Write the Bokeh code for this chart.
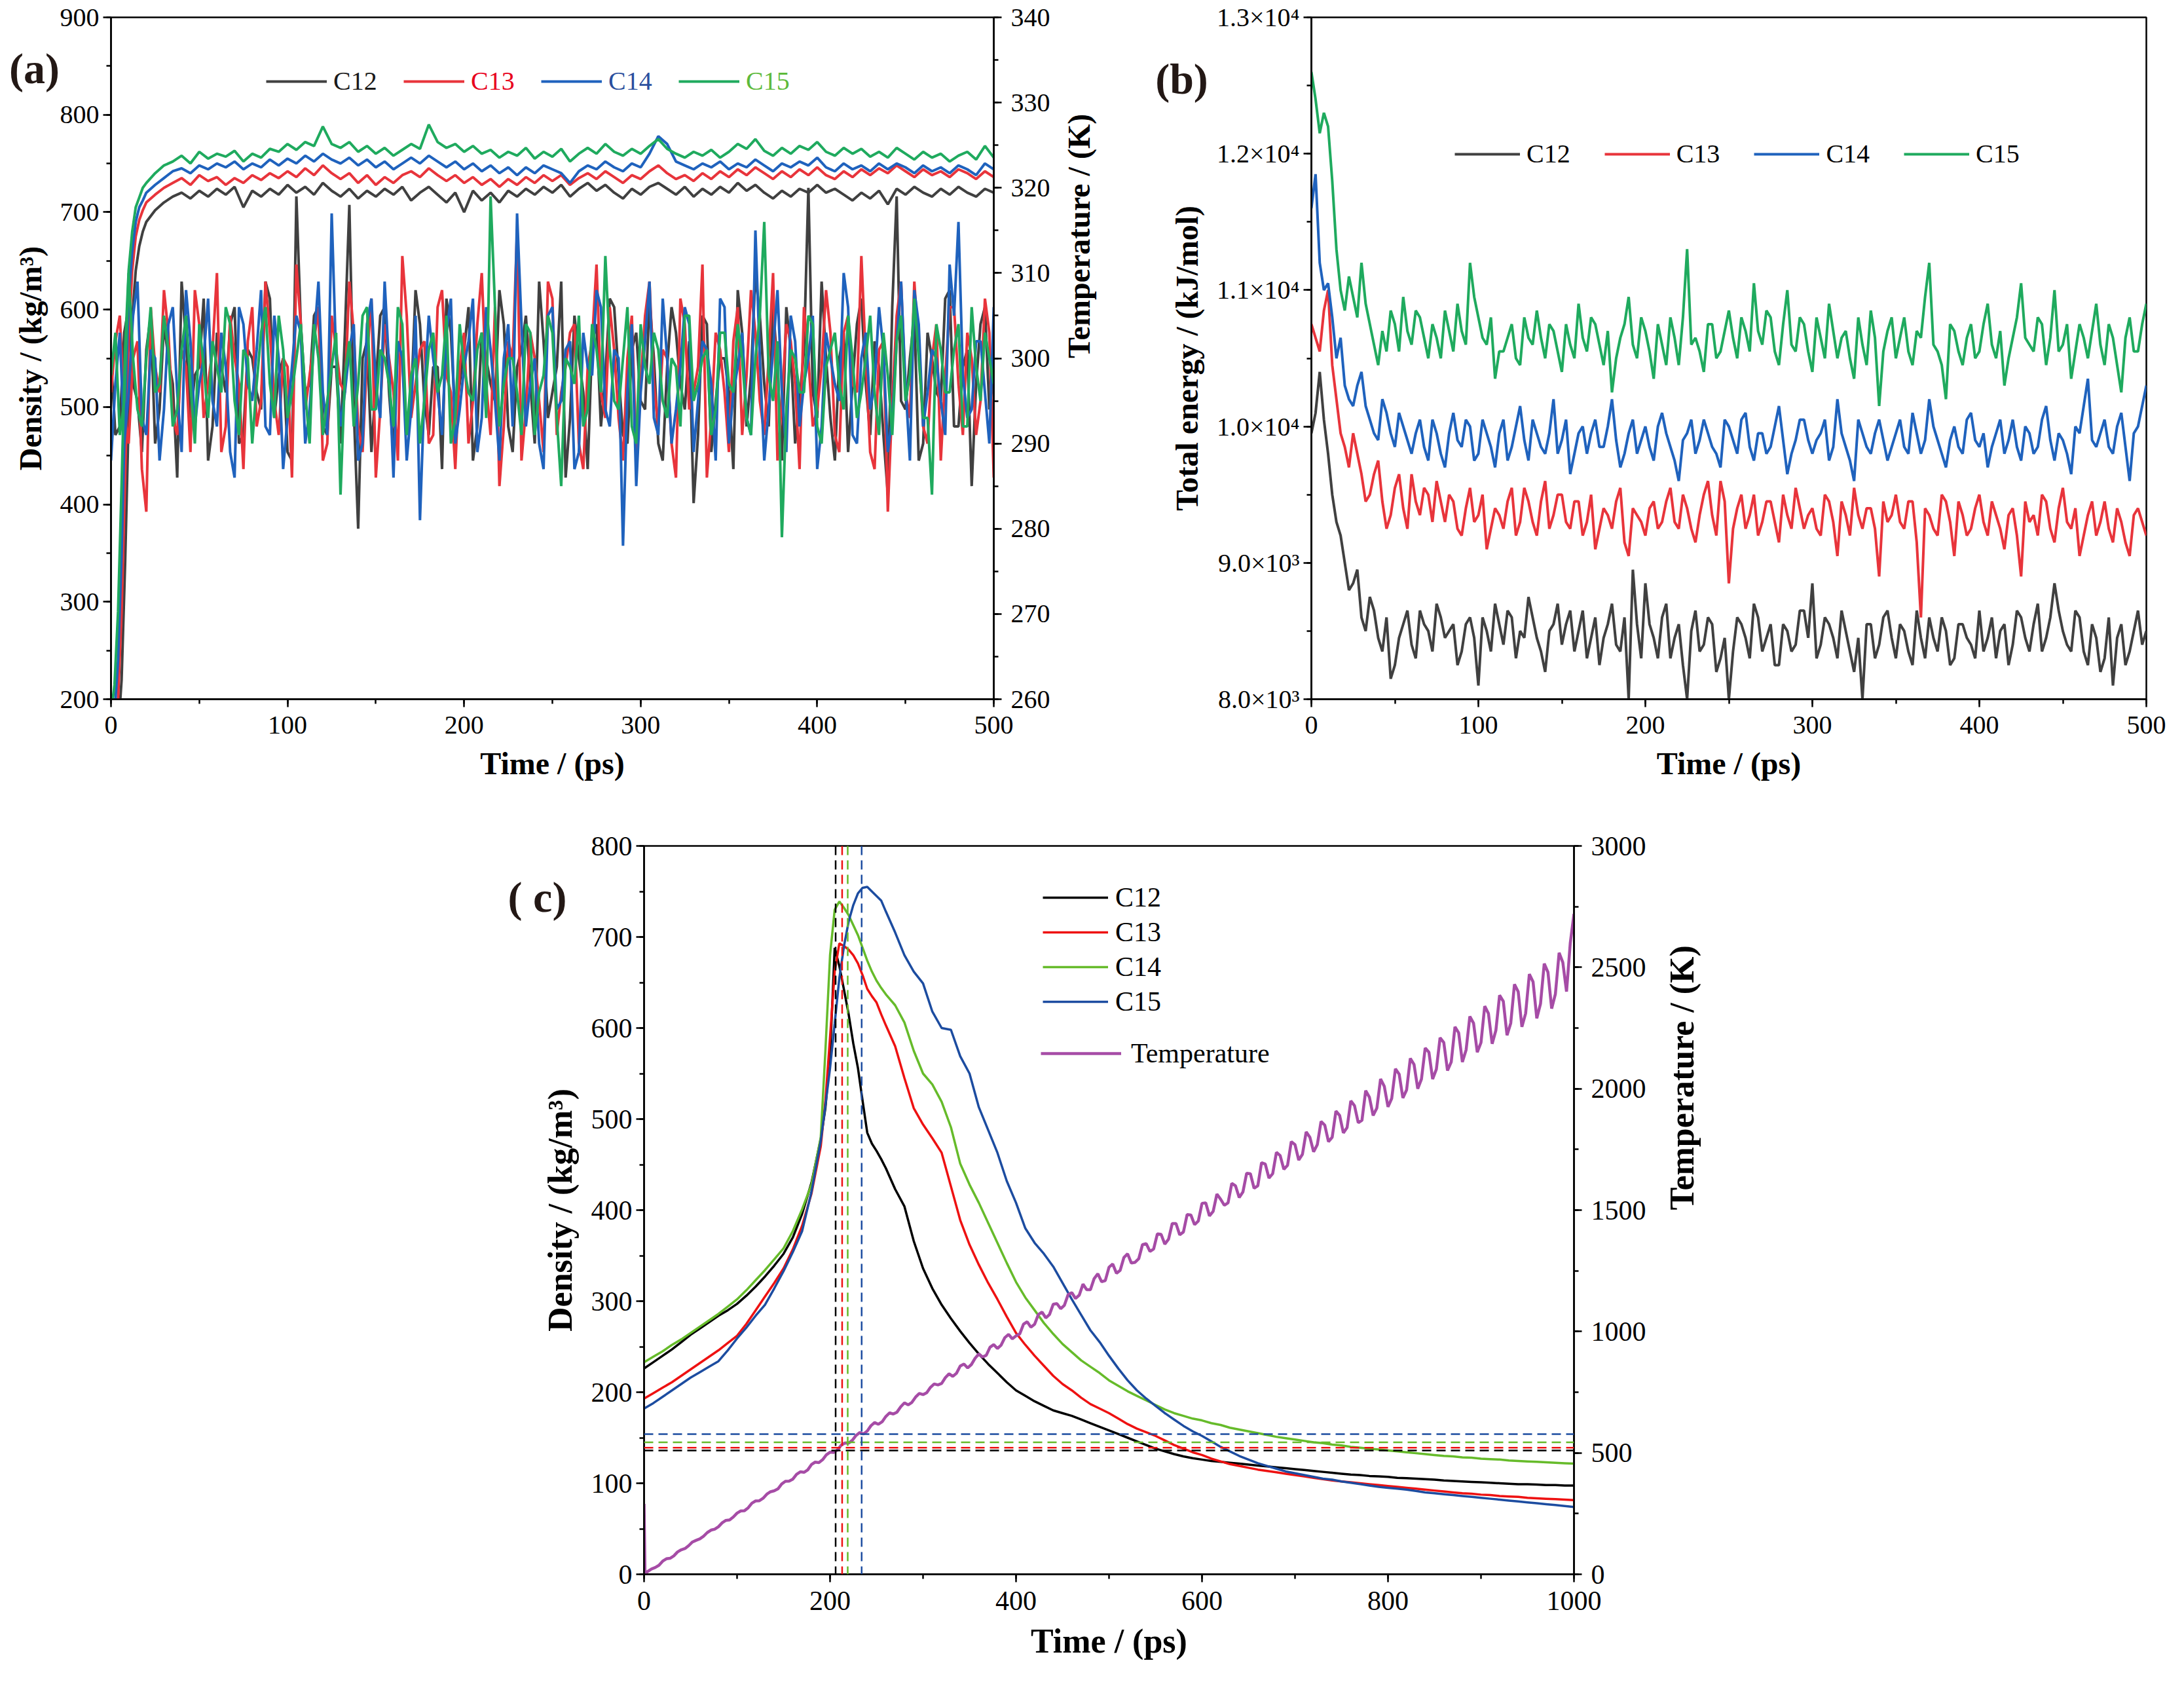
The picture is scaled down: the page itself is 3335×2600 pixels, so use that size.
import math

from bokeh.embed import file_html
from bokeh.layouts import row
from bokeh.models import (GridBox, Label, Legend, LegendItem, LinearAxis,
                          Range1d, SingleIntervalTicker, Spacer, Span)
from bokeh.plotting import figure
from bokeh.resources import INLINE

FONT = "Liberation Serif"

# ---------------- data: panel (a) ----------------
t_dens_a = [0, 2, 4, 6, 8, 10, 12, 14, 16, 18, 20] + list(range(25, 501, 5))
t_temp_a = list(range(0, 501, 5))
t_temp_a_mid = [t + 2.5 for t in range(0, 500, 5)]

dens_a_c12 = [130, 140, 165, 220, 340, 490, 590, 640, 665, 680, 690,
              702, 710, 716, 720, 714, 722, 716, 724, 718, 726,
              705, 722, 716, 724, 718, 728, 720, 726, 718, 730,
              722, 716, 724, 714, 722, 716, 724, 718, 726, 712,
              720, 726, 718, 710, 720, 700, 722, 712, 720, 710,
              722, 716, 724, 718, 726, 720, 728, 716, 724, 730,
              722, 728, 720, 714, 724, 718, 726, 730, 724, 718,
              726, 716, 724, 718, 726, 720, 730, 722, 728, 720,
              714, 722, 716, 724, 720, 728, 720, 724, 718, 712,
              720, 714, 722, 708, 724, 718, 726, 720, 716, 724,
              718, 726, 720, 716, 724, 720]
dens_a_c13 = [150, 165, 200, 290, 430, 570, 640, 675, 692, 702, 710,
              718, 725, 730, 735, 728, 738, 732, 736, 728, 735,
              730, 738, 733, 740, 735, 742, 736, 745, 738, 748,
              740, 734, 740, 730, 738, 728, 736, 730, 738, 742,
              736, 745, 738, 732, 738, 730, 736, 728, 734, 726,
              734, 728, 736, 730, 738, 732, 738, 728, 735, 740,
              734, 742, 736, 730, 738, 734, 742, 748, 740, 734,
              738, 732, 740, 734, 742, 736, 744, 738, 746, 740,
              734, 742, 736, 744, 738, 746, 738, 734, 742, 736,
              744, 738, 745, 740, 748, 742, 736, 744, 738, 742,
              736, 744, 740, 734, 742, 736]
dens_a_c14 = [165, 185, 240, 350, 500, 610, 660, 690, 705, 712, 720,
              728, 735, 742, 745, 740, 748, 744, 750, 746, 752,
              744, 750, 746, 754, 748, 755, 750, 758, 752, 760,
              754, 750, 756, 748, 754, 746, 752, 744, 750, 756,
              750, 758, 752, 746, 752, 744, 750, 742, 748, 740,
              746, 738, 746, 740, 748, 744, 740, 730, 742, 748,
              744, 752, 746, 742, 750, 746, 760, 778, 770, 752,
              748, 744, 750, 746, 752, 744, 750, 746, 754, 748,
              742, 750, 746, 752, 748, 756, 746, 742, 750, 744,
              748, 742, 750, 744, 750, 746, 740, 748, 742, 746,
              740, 748, 744, 738, 750, 744]
dens_a_c15 = [185, 215, 290, 420, 560, 640, 680, 705, 715, 725, 730,
              740, 748, 752, 758, 750, 762, 755, 760, 757, 763,
              752, 760, 756, 765, 762, 770, 764, 772, 768, 788,
              770, 766, 772, 762, 768, 760, 766, 758, 764, 770,
              765, 790, 772, 766, 770, 762, 768, 760, 764, 756,
              762, 758, 766, 755, 762, 757, 765, 752, 760, 766,
              760, 770, 762, 758, 765, 760, 768, 775, 765, 760,
              756, 762, 758, 764, 756, 762, 770, 765, 775, 763,
              758, 766, 760, 768, 764, 772, 762, 758, 766, 760,
              765, 757, 762, 756, 766, 760, 754, 762, 756, 760,
              752, 758, 762, 754, 768, 756]

temp_a_c12 = [300, 292, 306, 295, 301, 290, 304, 297, 309, 293,
              299, 288, 303, 296, 306, 291, 300, 294, 307, 298,
              289, 319, 296, 305, 292, 299, 290, 318, 280, 302,
              297, 306, 289, 300, 295, 304, 291, 299, 307, 293,
              301, 288, 303, 297, 308, 292, 299, 305, 290, 302,
              296, 309, 293, 300, 287, 304, 298, 306, 291, 301,
              295, 307, 290, 299, 303, 294, 283, 305, 289, 300,
              296, 308, 292, 310, 297, 306, 288, 301, 295, 320,
              293, 300, 288, 303, 297, 307, 291, 299, 284, 319,
              294, 305, 290, 300, 295, 308, 292, 301, 297, 306,
              298]
temp_a_c12_mid = [291, 303, 297, 289, 305, 294, 300, 286, 302, 298,
                  307, 292, 299, 304, 290, 301, 296, 309, 293, 300,
                  288, 304, 297, 306, 291, 299, 303, 294, 300, 289,
                  305, 296, 302, 291, 308, 295, 299, 287, 303, 297,
                  306, 292, 300, 295, 304, 289, 301, 297, 309, 293,
                  299, 286, 305, 296, 302, 292, 307, 298, 290, 303,
                  294, 300, 288, 306, 297, 302, 291, 304, 295, 300,
                  287, 303, 298, 305, 292, 299, 306, 290, 301, 296,
                  309, 293, 300, 289, 304, 297, 302, 291, 306, 295,
                  300, 288, 303, 296, 307, 292, 299, 285, 304, 294]
temp_a_c13 = [296, 305, 290, 302, 282, 299, 308, 293, 301, 289,
              304, 297, 310, 292, 300, 287, 306, 295, 303, 291,
              299, 311, 294, 302, 288, 305, 297, 309, 292, 300,
              286, 304, 296, 312, 293, 301, 290, 306, 298, 287,
              303, 295, 310, 291, 285, 302, 315, 294, 300, 289,
              307, 296, 303, 290, 299, 311, 293, 301, 288, 305,
              297, 309, 292, 300, 286, 304, 296, 311, 293, 301,
              289, 306, 298, 303, 291, 310, 295, 302, 287, 300,
              294, 308, 291, 303, 297, 312, 289, 301, 282, 305,
              296, 309, 292, 300, 288, 306, 297, 303, 291, 307,
              286]
temp_a_c13_mid = [302, 294, 300, 287, 306, 296, 303, 291, 299, 308,
                  293, 301, 289, 305, 297, 302, 292, 309, 295, 300,
                  286, 304, 298, 306, 290, 301, 296, 303, 289, 307,
                  294, 300, 288, 305, 297, 302, 291, 308, 296, 299,
                  290, 304, 297, 306, 292, 300, 288, 303, 295, 309,
                  291, 299, 304, 287, 302, 296, 306, 293, 300, 289,
                  305, 297, 301, 290, 307, 294, 299, 286, 303, 296,
                  302, 291, 308, 295, 300, 288, 304, 297, 306, 292,
                  299, 303, 289, 305, 296, 300, 287, 302, 295, 309,
                  293, 301, 290, 304, 298, 306, 291, 300, 295, 303]
temp_a_c14 = [288, 303, 296, 309, 291, 300, 294, 306, 289, 302,
              297, 307, 292, 299, 286, 304, 295, 308, 291, 300,
              293, 305, 290, 302, 296, 317, 292, 301, 288, 304,
              297, 309, 286, 300, 294, 281, 305, 296, 303, 290,
              299, 307, 293, 301, 288, 304, 317, 292, 300, 287,
              306, 295, 302, 289, 299, 308, 294, 301, 278, 304,
              296, 309, 291, 300, 294, 306, 289, 302, 297, 307,
              290, 299, 293, 315, 288, 301, 296, 305, 292, 300,
              287, 303, 297, 310, 291, 300, 294, 306, 289, 302,
              297, 308, 292, 301, 295, 311, 316, 293, 302, 296,
              306]
temp_a_c14_mid = [297, 290, 305, 293, 301, 288, 304, 296, 308, 292,
                  300, 295, 303, 289, 306, 297, 301, 292, 305, 287,
                  299, 303, 294, 309, 291, 300, 296, 304, 290, 307,
                  293, 299, 302, 288, 305, 296, 300, 291, 307, 294,
                  302, 289, 306, 295, 300, 292, 304, 297, 290, 305,
                  294, 301, 287, 303, 298, 306, 292, 300, 296, 285,
                  302, 293, 307, 290, 299, 304, 295, 301, 288, 306,
                  296, 303, 291, 300, 294, 308, 289, 302, 297, 305,
                  292, 300, 295, 306, 290, 303, 297, 301, 293, 309,
                  288, 304, 296, 300, 291, 305, 298, 294, 302, 290]
temp_a_c15 = [298, 291, 310, 294, 300, 296, 305, 292, 301, 297,
              304, 293, 299, 306, 295, 301, 290, 303, 297, 305,
              293, 300, 296, 304, 291, 299, 284, 302, 297, 306,
              294, 300, 292, 304, 298, 290, 301, 296, 305, 293,
              299, 295, 303, 319, 292, 300, 296, 304, 291, 298,
              303, 285, 299, 305, 294, 301, 312, 295, 300, 292,
              304, 297, 301, 293, 299, 305, 295, 300, 291, 303,
              297, 304, 293, 300, 316, 295, 279, 301, 296, 305,
              292, 299, 303, 294, 300, 296, 305, 291, 298, 302,
              295, 307, 293, 284, 301, 296, 304, 292, 299, 303,
              297]
temp_a_c15_mid = [303, 295, 300, 292, 306, 297, 301, 294, 305, 290,
                  299, 302, 296, 304, 291, 300, 297, 306, 293, 301,
                  296, 304, 290, 300, 295, 303, 298, 292, 305, 294,
                  301, 297, 306, 291, 300, 295, 303, 298, 290, 304,
                  296, 301, 293, 306, 297, 300, 291, 303, 296, 305,
                  293, 300, 297, 292, 304, 296, 301, 294, 306, 290,
                  299, 303, 295, 300, 292, 305, 297, 301, 294, 303,
                  296, 300, 291, 305, 298, 302, 294, 300, 296, 304,
                  290, 301, 297, 305, 293, 300, 296, 303, 291, 305,
                  298, 300, 293, 304, 296, 301, 292, 306, 295, 300]

# ---------------- data: panel (b) ----------------
t_b = list(range(0, 501, 5))
t_b_mid = [t + 2.5 for t in range(0, 500, 5)]

energy_c12 = [9950, 10400, 9800, 9300, 9000, 8850, 8600, 8750, 8450, 8600,
              8250, 8550, 8400, 8650, 8500, 8700, 8450, 8550, 8350, 8600,
              8100, 8500, 8700, 8400, 8600, 8500, 8750, 8450, 8200, 8550,
              8400, 8650, 8500, 8300, 8600, 8450, 8700, 8350, 8000, 8550,
              8850, 8450, 8600, 8300, 8550, 8000, 8650, 8400, 8550, 8300,
              8000, 8600, 8450, 8700, 8350, 8550, 8250, 8500, 8400, 8650,
              8850, 8400, 8550, 8300, 8500, 8200, 8000, 8550, 8400, 8650,
              8300, 8500, 8250, 8450, 8600, 8350, 8500, 8300, 8550, 8400,
              8650, 8450, 8300, 8550, 8400, 8600, 8350, 8700, 8450, 8850,
              8500, 8350, 8600, 8250, 8450, 8300, 8100, 8550, 8350, 8650,
              8500]
energy_c12_mid = [10100, 10050, 9500, 9200, 8800, 8950, 8500, 8650, 8350, 8150,
                  8450, 8650, 8300, 8550, 8350, 8600, 8500, 8250, 8550, 8450,
                  8600, 8350, 8550, 8650, 8300, 8450, 8600, 8350, 8500, 8700,
                  8550, 8350, 8650, 8450, 8250, 8550, 8400, 8600, 8950, 8300,
                  8550, 8300, 8700, 8450, 8250, 8500, 8350, 8600, 8200, 8450,
                  8350, 8550, 8300, 8600, 8450, 8250, 8550, 8350, 8650, 8450,
                  8300, 8600, 8450, 8650, 8350, 8450, 8550, 8300, 8600, 8450,
                  8550, 8350, 8650, 8300, 8450, 8600, 8250, 8550, 8450, 8300,
                  8350, 8600, 8500, 8250, 8650, 8450, 8550, 8350, 8600, 8650,
                  8400, 8650, 8350, 8550, 8200, 8600, 8450, 8250, 8500, 8400]
energy_c13 = [10750, 10550, 11000, 10200, 9850, 9950, 9650, 9500, 9750, 9250,
              9550, 9400, 9650, 9350, 9500, 9600, 9300, 9450, 9200, 9550,
              9350, 9100, 9400, 9250, 9550, 9300, 9450, 9200, 9600, 9350,
              9500, 9250, 9450, 9300, 9100, 9400, 9250, 9550, 9050, 9350,
              9200, 9450, 9300, 9550, 9250, 9400, 9150, 9500, 9350, 9600,
              8850, 9400, 9250, 9500, 9300, 9450, 9150, 9350, 9550, 9250,
              9400, 9200, 9450, 9050, 9350, 9550, 9250, 9400, 8900, 9300,
              9500, 9250, 9450, 8600, 9350, 9200, 9450, 9050, 9350, 9250,
              9500, 9200, 9350, 9100, 9400, 8900, 9300, 9200, 9450, 9150,
              9550, 9250, 9050, 9350, 9200, 9450, 9150, 9300, 9050, 9400,
              9200]
energy_c13_mid = [10650, 10850, 10450, 9950, 9700, 9800, 9450, 9650, 9450, 9350,
                  9650, 9250, 9450, 9550, 9300, 9450, 9500, 9250, 9400, 9300,
                  9500, 9250, 9350, 9450, 9200, 9550, 9300, 9450, 9250, 9500,
                  9300, 9450, 9200, 9500, 9250, 9350, 9450, 9150, 9400, 9300,
                  9400, 9250, 9450, 9300, 9500, 9250, 9350, 9600, 9200, 9450,
                  9250, 9500, 9350, 9200, 9450, 9300, 9500, 9250, 9400, 9350,
                  9250, 9500, 9300, 9450, 9200, 9350, 9400, 9250, 9450, 9350,
                  9300, 9450, 9150, 9400, 9250, 9500, 9300, 9450, 9200, 9400,
                  9300, 9450, 9250, 9350, 9200, 9450, 9350, 9500, 9250, 9400,
                  9300, 9400, 9200, 9450, 9300, 9250, 9400, 9150, 9350, 9300]
energy_c14 = [11600, 11200, 11050, 10500, 10300, 10150, 10400, 10050, 9900, 10100,
              9850, 10000, 9800, 10050, 9750, 9950, 9700, 10100, 9850, 10000,
              9800, 9950, 9700, 10050, 9850, 10150, 9750, 9950, 9800, 10200,
              9900, 9650, 9950, 9800, 10050, 9850, 10200, 9700, 9950, 9800,
              10000, 9750, 10100, 9850, 9600, 9950, 9800, 10050, 9850, 9700,
              10000, 9800, 10100, 9750, 9950, 9850, 10150, 9650, 9900, 10050,
              9800, 9950, 9750, 10200, 9850, 9600, 9950, 9800, 10050, 9750,
              9950, 9850, 10100, 9800, 10200, 9900, 9700, 10000, 9800, 10100,
              9850, 9700, 9950, 9800, 10050, 9750, 9950, 9850, 10150, 9750,
              9900, 9650, 9950, 10350, 9850, 10050, 9800, 10100, 9600, 10000,
              10300]
energy_c14_mid = [11850, 11000, 10800, 10650, 10200, 10300, 10150, 9950, 10200, 9950,
                  10100, 9900, 9950, 9850, 10050, 9800, 9950, 9900, 10050, 9750,
                  10050, 9850, 9950, 9750, 10000, 9900, 10050, 9850, 9950, 9800,
                  10050, 9800, 10000, 9950, 9850, 10000, 9900, 9800, 10050, 9900,
                  9850, 10000, 9950, 9750, 9900, 10050, 9900, 9950, 9800, 10050,
                  9900, 10050, 9850, 9950, 9800, 10000, 9900, 9800, 10050, 9900,
                  9900, 10050, 9850, 9950, 9750, 10050, 9850, 9950, 9900, 9850,
                  10050, 9800, 9950, 9900, 10000, 9800, 9900, 9850, 10050, 9900,
                  9950, 9850, 10050, 9900, 9850, 10000, 9800, 10050, 9900, 9950,
                  9800, 10000, 10150, 9900, 9950, 9850, 10000, 9850, 9950, 10150]
energy_c15 = [12600, 12150, 12200, 11300, 10850, 10950, 11200, 10750, 10450, 10550,
              10750, 10950, 10600, 10800, 10500, 10650, 10850, 10550, 10700, 11200,
              10800, 10600, 10350, 10550, 10750, 10450, 10650, 10850, 10500, 10700,
              10400, 10600, 10900, 10550, 10750, 10450, 10250, 10650, 10950, 10500,
              10700, 10350, 10600, 10800, 10450, 11300, 10650, 10400, 10750, 10550,
              10850, 10500, 10700, 11050, 10600, 10800, 10450, 11000, 10550, 10750,
              10400, 10650, 10900, 10500, 10700, 10350, 10600, 10850, 10150, 10700,
              10500, 10800, 10450, 10650, 11200, 10550, 10200, 10700, 10450, 10750,
              10550, 10900, 10500, 10300, 10650, 11050, 10600, 10800, 10450, 11000,
              10600, 10350, 10750, 10500, 10900, 10450, 10650, 10250, 10800, 10550,
              10900]
energy_c15_mid = [12400, 12300, 11800, 11000, 11100, 10800, 10900, 10600, 10700, 10850,
                  10550, 10700, 10850, 10650, 10750, 10500, 10700, 10900, 10600, 10950,
                  10650, 10800, 10550, 10650, 10500, 10800, 10600, 10650, 10750, 10550,
                  10750, 10500, 10650, 10800, 10600, 10700, 10500, 10750, 10600, 10800,
                  10550, 10750, 10450, 10650, 10800, 10600, 10550, 10750, 10500, 10700,
                  10650, 10800, 10550, 10700, 10850, 10550, 10750, 10600, 10800, 10550,
                  10800, 10500, 10700, 10650, 10500, 10800, 10450, 10650, 10550, 10800,
                  10650, 10550, 10700, 10950, 10600, 10450, 10750, 10550, 10650, 10500,
                  10750, 10600, 10700, 10500, 10800, 10650, 10550, 10750, 10650, 10550,
                  10750, 10550, 10650, 10700, 10600, 10750, 10450, 10650, 10550, 10750]
energy_ticks = {8000: "8.0×10³", 9000: "9.0×10³", 10000: "1.0×10⁴",
                11000: "1.1×10⁴", 12000: "1.2×10⁴", 13000: "1.3×10⁴"}

# ---------------- data: panel (c) ----------------
t_c = list(range(0, 191, 10)) + list(range(195, 261, 5)) + list(range(270, 1001, 10))

dens_c_c12 = [226, 233, 240, 247, 255, 263, 270, 277, 284, 290,
              297, 306, 316, 327, 339, 352, 370, 396, 430, 478,
              512, 570, 688, 668, 642, 615, 583, 556, 520, 485, 473, 465, 456, 446,
              423, 404, 366, 336,
              314, 296, 281, 267, 254, 242, 231, 221, 211, 202,
              196, 190, 185, 180, 177, 174, 170, 166, 162, 158,
              154, 150, 146, 142, 138, 135, 132, 129.5, 127.5, 126,
              124.5, 123.5, 122.5, 121.5, 120.5, 119.5, 118.5, 117.5, 116.5, 115.5,
              114.5, 113.5, 112.5, 111.5, 110.5, 109.5, 109, 108, 107.5, 107,
              106, 105.5, 105, 104.5, 104, 103, 102.5, 102, 101.5, 101,
              100.5, 100, 99.5, 99, 99, 98.5, 98, 98, 97.5, 97.5]
dens_c_c13 = [193, 199, 205, 211, 218, 225, 232, 239, 246, 254,
              262, 275, 290, 305, 320, 336, 357, 383, 418, 470,
              520, 590, 662, 693, 690, 686, 680, 671, 658, 643, 635, 628, 615, 603,
              580, 545, 512, 494,
              479, 463, 426, 389, 362, 340, 320, 302, 283, 265,
              252, 240, 229, 218, 209, 202, 194, 187, 182, 177,
              171, 165, 160, 156, 152, 147, 142, 138, 134, 131,
              127, 124, 121, 119, 117, 115, 113.5, 112, 110.5, 109,
              107.5, 106, 104.5, 103, 102, 101, 100, 99, 98, 97,
              96, 95, 94, 93, 92, 91, 90, 89, 88.5, 87.5,
              87, 86, 85.5, 85, 84, 83.5, 83, 82.5, 82, 81.5]
dens_c_c14 = [233, 239, 245, 252, 258, 265, 272, 279, 286, 294,
              302, 312, 323, 334, 346, 358, 377, 401, 428, 480,
              575, 680, 730, 739, 732, 724, 713, 702, 688, 674, 662, 652, 644, 637,
              625, 606, 575, 550,
              538, 519, 491, 451, 428, 408, 386, 364, 342, 321,
              304, 290, 276, 264, 253, 244, 235, 228, 221, 213,
              207, 201, 196, 191, 186, 181, 177, 174, 171, 169,
              166, 164, 161, 159, 157, 155, 153, 151, 149.5, 148,
              146.5, 145, 144, 142.5, 141.5, 140, 139, 138, 137, 136,
              135, 134, 133, 132, 131, 130, 129.5, 128.5, 128, 127,
              126.5, 126, 125, 124.5, 124, 123.5, 123, 122.5, 122, 121.5]
dens_c_c15 = [182, 188, 195, 202, 209, 216, 222, 228, 234, 246,
              259, 271, 284, 296, 314, 333, 354, 377, 420, 476,
              515, 556, 605, 655, 690, 717, 735, 748, 754, 755, 750, 745, 740, 728,
              705, 680, 662, 649,
              618, 600, 598, 569, 550, 513, 488, 463, 432, 408,
              380, 364, 352, 338, 320, 302, 285, 268, 255, 240,
              226, 213, 202, 193, 185, 177, 170, 163, 157, 152,
              146, 140, 135, 130, 126, 122, 119, 116, 113, 111,
              109, 107, 105, 104, 102, 100.5, 99, 97.5, 96, 95,
              94, 93, 91.5, 90, 89, 88, 87, 86, 85, 84,
              83, 82, 81, 80, 79, 78, 77, 76, 75, 74]

t_temp_c = [0, 1] + list(range(8, 1001, 8))
t_temp_c_mid = list(range(4, 1000, 8))
temp_c = [290, 2,
          22, 37, 64, 76, 101, 118, 140, 157, 182, 196,
          222, 236, 261, 274, 302, 313, 340, 352, 383, 392,
          422, 430, 462, 472, 503, 512, 541, 552, 584, 590,
          625, 628, 665, 668, 706, 708, 745, 748, 784, 786,
          826, 828, 866, 864, 908, 902, 946, 944, 988, 982,
          1030, 1018, 1070, 1056, 1112, 1094, 1152, 1136, 1195, 1172,
          1238, 1210, 1278, 1252, 1320, 1285, 1358, 1330, 1402, 1360,
          1445, 1398, 1482, 1440, 1528, 1476, 1566, 1520, 1610, 1552,
          1652, 1590, 1695, 1632, 1738, 1668, 1782, 1706, 1822, 1740,
          1865, 1782, 1908, 1818, 1950, 1860, 1992, 1890, 2040, 1925,
          2082, 1962, 2125, 2000, 2168, 2040, 2210, 2075, 2255, 2110,
          2298, 2150, 2340, 2185, 2385, 2220, 2430, 2255, 2472, 2290,
          2515, 2330, 2560, 2400, 2720]
temp_c_mid = [12, 28, 54, 66, 92, 106, 133, 146, 172, 186,
              212, 224, 252, 262, 293, 303, 330, 344, 372, 384,
              412, 420, 452, 460, 492, 502, 532, 540, 572, 578,
              612, 618, 650, 660, 690, 698, 730, 740, 770, 780,
              810, 815, 858, 850, 890, 895, 935, 930, 975, 970,
              990, 1040, 1030, 1080, 1070, 1115, 1108, 1160, 1150, 1172,
              1218, 1205, 1265, 1240, 1305, 1282, 1300, 1362, 1340, 1400,
              1380, 1445, 1410, 1480, 1455, 1530, 1495, 1545, 1530, 1600,
              1575, 1650, 1600, 1690, 1650, 1725, 1685, 1770, 1730, 1800,
              1770, 1850, 1800, 1890, 1840, 1930, 1870, 1965, 1920, 2010,
              1960, 2060, 1995, 2100, 2040, 2150, 2080, 2190, 2110, 2230,
              2160, 2270, 2190, 2310, 2240, 2360, 2270, 2400, 2310, 2440,
              2350, 2480, 2390, 2520, 2600]

peak_time = [206, 213, 219, 234]
cross_density = [136, 139, 145, 154]

names = ["C12", "C13", "C14", "C15"]
cols_ab = ["#404040", "#e8343b", "#1f62bd", "#1faa5e"]
text_cols_a = ["#1a1a1a", "#e8001c", "#2a4f9e", "#5dba3b"]
cols_c = ["#000000", "#ee1111", "#66bb2a", "#1c4ca0"]
purple = "#a64ca6"


def merge(t1, v1, t2, v2):
    pts = sorted(zip(list(t1) + list(t2), list(v1) + list(v2)))
    return [p[0] for p in pts], [p[1] for p in pts]


def style_axis(ax, interval, label, tick_px, title_px, vertical):
    ax.ticker = SingleIntervalTicker(interval=interval, num_minor_ticks=2)
    ax.axis_label = label
    ax.axis_label_text_font = FONT
    ax.axis_label_text_font_style = "bold"
    ax.axis_label_text_font_size = f"{title_px}px"
    ax.axis_label_text_color = "black"
    ax.major_label_text_font = FONT
    ax.major_label_text_font_size = f"{tick_px}px"
    ax.major_label_text_color = "black"
    ax.axis_line_color = "black"
    ax.axis_line_width = 2.5
    ax.major_tick_line_color = "black"
    ax.minor_tick_line_color = "black"
    ax.major_tick_line_width = 2.5
    ax.minor_tick_line_width = 2.5
    ax.major_tick_in = 0
    ax.major_tick_out = 12
    ax.minor_tick_in = 0
    ax.minor_tick_out = 7
    if vertical:
        ax.major_label_standoff = 6
        ax.axis_label_standoff = 16
    else:
        ax.major_label_standoff = 14
        ax.axis_label_standoff = 16


def flip_right_label(ax, standoff):
    # right-hand titles read bottom to top, like the left ones
    if hasattr(ax, "axis_label_orientation"):
        try:
            ax.axis_label_orientation = math.pi / 2
            ax.axis_label_standoff = standoff
        except Exception:
            pass


def base_fig(x_end, y_lo, y_hi, fw, fh, left, right, top, bottom):
    p = figure(x_range=Range1d(0, x_end), y_range=Range1d(y_lo, y_hi),
               frame_width=fw, frame_height=fh,
               min_border_left=left, min_border_right=right,
               min_border_top=top, min_border_bottom=bottom,
               output_backend="svg", toolbar_location=None)
    p.grid.visible = False
    p.outline_line_color = "black"
    p.outline_line_width = 2.5
    p.background_fill_color = "white"
    p.border_fill_color = "white"
    return p


def label_fig(w, h, marks):
    # transparent overlay that carries panel letters outside the plot frames
    f = figure(width=w, height=h, x_range=Range1d(0, w), y_range=Range1d(0, h),
               min_border=0, x_axis_type=None, y_axis_type=None,
               output_backend="svg", toolbar_location=None)
    f.outline_line_color = None
    f.background_fill_color = None
    f.border_fill_color = None
    for x, y, text in marks:
        f.add_layout(Label(x=x, y=y, text=text, text_font=FONT,
                           text_font_style="bold", text_font_size="66px",
                           text_align="center", text_baseline="middle",
                           text_color="#231815"))
    return f


# ---------------- panel (a) ----------------
pa = base_fig(500, 200, 900, 1348, 1041, 169, 215, 26, 175)
pa.extra_y_ranges = {"temp": Range1d(260, 340)}
style_axis(pa.xaxis[0], 100, "Time / (ps)", 40, 48, False)
style_axis(pa.yaxis[0], 100, "Density / (kg/m³)", 40, 48, True)
ax_ta = LinearAxis(y_range_name="temp")
style_axis(ax_ta, 10, "Temperature / (K)", 40, 48, True)
ax_ta.major_label_standoff = 14
flip_right_label(ax_ta, 41)
pa.add_layout(ax_ta, "right")

dens_a = [dens_a_c12, dens_a_c13, dens_a_c14, dens_a_c15]
temp_a = [temp_a_c12, temp_a_c13, temp_a_c14, temp_a_c15]
temp_a_mid = [temp_a_c12_mid, temp_a_c13_mid, temp_a_c14_mid, temp_a_c15_mid]
dens_a_r = []
for d, tk, tm, c in zip(dens_a, temp_a, temp_a_mid, cols_ab):
    r = pa.line(t_dens_a, d, line_color=c, line_width=4)
    tt, vv = merge(t_temp_a, tk, t_temp_a_mid, tm)
    pa.line(tt, vv, line_color=c, line_width=4, y_range_name="temp")
    dens_a_r.append(r)

for i, (nm, r, tc) in enumerate(zip(names, dens_a_r, text_cols_a)):
    lg = Legend(items=[LegendItem(label=nm, renderers=[r])],
                location=(237 + 210 * i, 920), orientation="horizontal",
                padding=0, margin=0, border_line_alpha=0, background_fill_alpha=0,
                label_text_font=FONT, label_text_font_size="40px",
                label_text_color=tc, glyph_width=93, glyph_height=46,
                label_height=46, label_standoff=10)
    pa.add_layout(lg)

# ---------------- panel (b) ----------------
pb = base_fig(500, 8000, 13000, 1275, 1041, 270, 42, 26, 175)
style_axis(pb.xaxis[0], 100, "Time / (ps)", 40, 48, False)
style_axis(pb.yaxis[0], 1000, "Total energy / (kJ/mol)", 40, 48, True)
pb.yaxis[0].major_label_overrides = energy_ticks

energy = [energy_c12, energy_c13, energy_c14, energy_c15]
energy_mid = [energy_c12_mid, energy_c13_mid, energy_c14_mid, energy_c15_mid]
items_b = []
for nm, e, em, c in zip(names, energy, energy_mid, cols_ab):
    tt, vv = merge(t_b, e, t_b_mid, em)
    r = pb.line(tt, vv, line_color=c, line_width=4)
    items_b.append(LegendItem(label=nm, renderers=[r]))
pb.add_layout(Legend(items=items_b, location=(219, 809), orientation="horizontal",
                     padding=0, margin=0, spacing=52, border_line_alpha=0,
                     background_fill_alpha=0, label_text_font=FONT,
                     label_text_font_size="40px", label_text_color="black",
                     glyph_width=100, glyph_height=46, label_height=46,
                     label_standoff=10))

# ---------------- panel (c) ----------------
pc = base_fig(1000, 0, 800, 1420, 1112, 213, 200, 49, 172)
pc.extra_y_ranges = {"temp": Range1d(0, 3000)}
style_axis(pc.xaxis[0], 200, "Time / (ps)", 42, 52, False)
style_axis(pc.yaxis[0], 100, "Density / (kg/m³)", 42, 52, True)
ax_tc = LinearAxis(y_range_name="temp")
style_axis(ax_tc, 500, "Temperature / (K)", 42, 52, True)
ax_tc.major_label_standoff = 14
flip_right_label(ax_tc, 52)
pc.add_layout(ax_tc, "right")

dens_c = [dens_c_c12, dens_c_c13, dens_c_c14, dens_c_c15]
items_c = []
for nm, d, c in zip(names, dens_c, cols_c):
    r = pc.line(t_c, d, line_color=c, line_width=3.5)
    items_c.append(LegendItem(label=nm, renderers=[r]))
tt, vv = merge(t_temp_c, temp_c, t_temp_c_mid, temp_c_mid)
r_temp = pc.line(tt, vv, line_color=purple, line_width=4.5, y_range_name="temp")

for tp, dc, c in zip(peak_time, cross_density, cols_c):
    pc.add_layout(Span(location=tp, dimension="height", line_color=c,
                       line_width=2.5, line_dash="14 8"))
    pc.add_layout(Span(location=dc, dimension="width", line_color=c,
                       line_width=2.5, line_dash="14 8"))

pc.add_layout(Legend(items=items_c, location=(609, 850), orientation="vertical",
                     padding=0, margin=0, spacing=5, border_line_alpha=0,
                     background_fill_alpha=0, label_text_font=FONT,
                     label_text_font_size="42px", label_text_color="black",
                     glyph_width=100, glyph_height=48, label_height=48,
                     label_standoff=11))
pc.add_layout(Legend(items=[LegendItem(label="Temperature", renderers=[r_temp])],
                     location=(606, 771), orientation="vertical",
                     padding=0, margin=0, border_line_alpha=0,
                     background_fill_alpha=0, label_text_font=FONT,
                     label_text_font_size="42px", label_text_color="black",
                     glyph_width=123, glyph_height=48, label_height=48,
                     label_standoff=15))

# panel letters, laid over the figure rows in the same grid cells
lab_top = label_fig(1900, 200, [(52, 96, "(a)"), (1804, 80, "(b)")])
lab_bottom = label_fig(900, 200, [(820, 73, "( c)")])

top_row = row(pa, pb)
bottom_row = row(Spacer(width=770, height=10), pc)
layout = GridBox(children=[(top_row, 0, 0, 1, 2), (lab_top, 0, 0, 1, 2),
                           (bottom_row, 1, 0, 1, 2), (lab_bottom, 1, 0, 1, 2)])

open("out.html", "w").write(file_html(layout, INLINE))
